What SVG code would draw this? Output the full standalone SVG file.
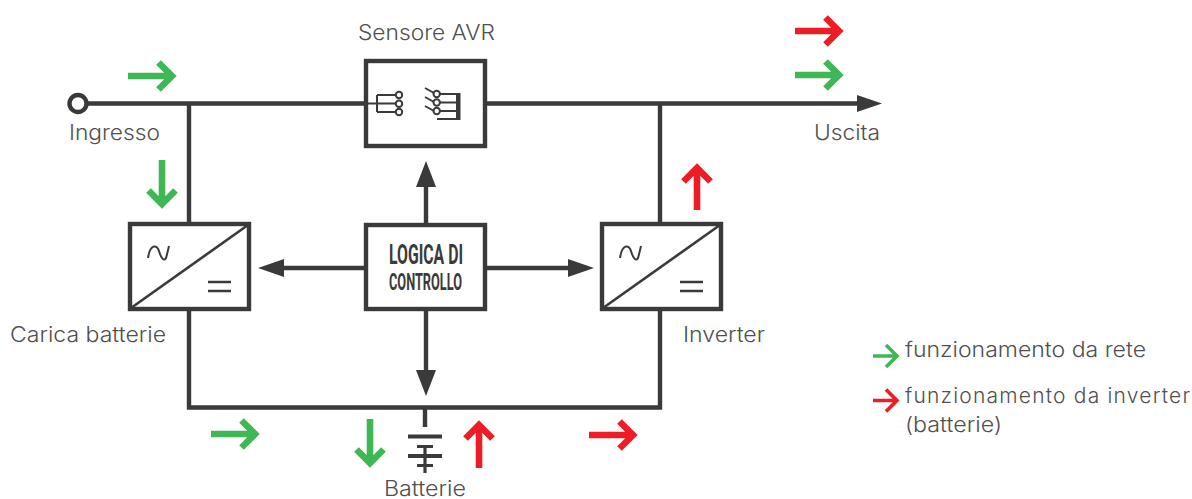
<svg xmlns="http://www.w3.org/2000/svg" width="1192" height="499" viewBox="0 0 1192 499">
<style>
text{font-family:"Inter","Noto Sans","Liberation Sans",sans-serif;font-weight:300;font-size:21px;fill:#505050}
.box{fill:#fff;stroke:#3a3a3a;stroke-width:4.4}
.ln{fill:none;stroke:#3a3a3a;stroke-width:4.4}
.th{fill:none;stroke:#3a3a3a;stroke-width:2}
.md{fill:none;stroke:#3a3a3a;stroke-width:2.6}
.sn{fill:none;stroke:#3a3a3a;stroke-width:2}
.bp{fill:none;stroke:#3a3a3a;stroke-width:4}
.bs{fill:none;stroke:#3a3a3a;stroke-width:3.2}
.hd{fill:#3a3a3a}
.g{fill:none;stroke:#3fb754;stroke-width:6.6}
.r{fill:none;stroke:#ee1c25;stroke-width:6.6}
.g2{fill:none;stroke:#3fb754;stroke-width:3.6}
.r2{fill:none;stroke:#ee1c25;stroke-width:3.6}
.t{font-family:"Liberation Sans Narrow","Roboto","Liberation Sans",sans-serif;font-weight:700;fill:#3a3a3a}
</style>
<g id="connectors">
<path class="ln" d="M87 103.500H364M487 103.500H860M189 103.500V224M660 103.500V224M189 309V407.500H660V309M426 186V224M426 310V372M280 268H364M487 268H572M425 407.500V427"/>
<path class="hd" d="M857 95L882 103.500L857 112ZM426 161L416 187H436ZM258 268L284 259V277ZM594 268L568 259V277ZM426 396L416 370H436Z"/>
</g>
<g id="flows">
<path class="g" d="M128 76H172M158.500 62.500L172 76L158.500 89.500"/>
<path class="r" d="M795 31H839M825.500 17.500L839 31L825.500 44.500"/>
<path class="g" d="M795 75H839M825.500 61.500L839 75L825.500 88.500"/>
<path class="g" d="M162 160V204M148.500 190.500L162 204L175.500 190.500"/>
<path class="r" d="M697 210V168M683.500 181.500L697 168L710.500 181.500"/>
<path class="g" d="M211 434H255M241.500 420.500L255 434L241.500 447.500"/>
<path class="r" d="M589 435H633M619.500 421.500L633 435L619.500 448.500"/>
<path class="g" d="M370 419V463M356.500 449.500L370 463L383.500 449.500"/>
<path class="r" d="M479 468V425M465.500 438.500L479 425L492.500 438.500"/>
</g>
<g id="ingresso"><circle cx="78" cy="103.500" r="8.500" fill="#fff" stroke="#3a3a3a" stroke-width="4.400"/><text x="69" y="140" textLength="91" lengthAdjust="spacingAndGlyphs">Ingresso</text></g>
<g id="uscita"><text x="814" y="140" textLength="66" lengthAdjust="spacingAndGlyphs">Uscita</text></g>
<g id="sensore-avr">
<text x="358" y="40" textLength="137" lengthAdjust="spacingAndGlyphs">Sensore AVR</text>
<rect class="box" x="366" y="61" width="119" height="85"/>
<path class="th" d="M366 103.500H396M377 95H396M377 112H396M377 95V112"/>
<circle class="th" cx="399" cy="95" r="3.200"/><circle class="th" cx="399" cy="103.700" r="3.200"/><circle class="th" cx="399" cy="112" r="3.200"/>
<path class="th" d="M425 88L434 93M425 97L434 102M425 106L434 111M440 94H458M440 102.500H458M440 111H458M437 119H458"/>
<circle class="th" cx="436.700" cy="94" r="3.200"/><circle class="th" cx="436.700" cy="102.500" r="3.200"/><circle class="th" cx="436.700" cy="111" r="3.200"/>
<path d="M456 93H460.500V120H456Z" class="hd"/>
</g>
<g id="logica">
<rect class="box" x="366" y="225" width="119" height="84"/>
<text class="t" x="389" y="263.500" textLength="74" lengthAdjust="spacingAndGlyphs" style="font-size:28px">LOGICA DI</text>
<text class="t" x="389" y="290" textLength="73" lengthAdjust="spacingAndGlyphs" style="font-size:23px">CONTROLLO</text>
</g>
<g id="carica-batterie">
<rect class="box" x="130" y="224" width="119" height="85"/>
<path class="md" d="M131 308L248 225"/>
<path class="sn" d="M148 258C150 244 157 244 159 251C161 258 164 262 166 258C167 255 168 250 169 246"/>
<path class="md" d="M208 282H231M208 291H231"/>
<text x="10" y="342" textLength="156" lengthAdjust="spacingAndGlyphs">Carica batterie</text>
</g>
<g id="inverter">
<rect class="box" x="602" y="224" width="119" height="85"/>
<path class="md" d="M603 308L720 225"/>
<path class="sn" d="M620 258C622 244 629 244 631 251C633 258 636 262 638 258C639 255 640 250 641 246"/>
<path class="md" d="M680 282H703M680 291H703"/>
<text x="683" y="342" textLength="82" lengthAdjust="spacingAndGlyphs">Inverter</text>
</g>
<g id="batterie">
<path class="bp" d="M408 436.500H442M408 456H442"/>
<path class="bs" d="M417 446.500H433M417 465.500H433M425 446.500V473"/>
<text x="384" y="496" textLength="82" lengthAdjust="spacingAndGlyphs">Batterie</text>
</g>
<g id="legenda">
<path class="g2" d="M873 356H897M886 345L897 356L886 367"/>
<text x="905" y="356.500" textLength="241" lengthAdjust="spacingAndGlyphs">funzionamento da rete</text>
<path class="r2" d="M873 400.500H897M886 389.500L897 400.500L886 411.500"/>
<text x="905" y="402.500" textLength="285">funzionamento da inverter</text>
<text x="905" y="431.500" textLength="97" lengthAdjust="spacingAndGlyphs">(batterie)</text>
</g>
</svg>
